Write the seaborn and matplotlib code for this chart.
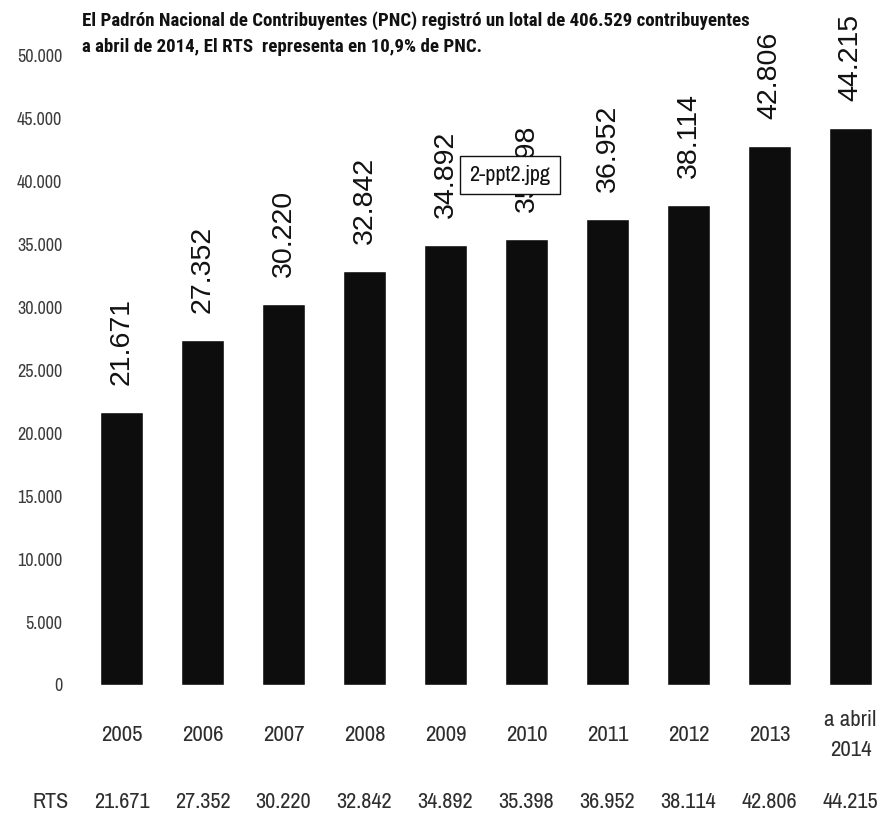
import matplotlib
matplotlib.use("Agg")
import matplotlib.pyplot as plt
import matplotlib.transforms as mtransforms
import seaborn as sns
import pandas as pd

# Contribuyentes del RTS por año
categorias = ["2005", "2006", "2007", "2008", "2009", "2010", "2011", "2012", "2013", "a abril\n2014"]
valores = [21671, 27352, 30220, 32842, 34892, 35398, 36952, 38114, 42806, 44215]
etiquetas_valor = ["21.671", "27.352", "30.220", "32.842", "34.892", "35.398",
                   "36.952", "38.114", "42.806", "44.215"]
fila_rts = ["21.671", "27.352", "30.220", "32.842", "34.892", "35.398",
            "36.952", "38.114", "42.806", "44.215"]
yticks = [0, 5000, 10000, 15000, 20000, 25000, 30000, 35000, 40000, 45000, 50000]
ytick_labels = ["0", "5.000", "10.000", "15.000", "20.000", "25.000",
                "30.000", "35.000", "40.000", "45.000", "50.000"]
titulo = ("El Padrón Nacional de Contribuyentes (PNC) registró un lotal de 406.529 contribuyentes\n"
          "a abril de 2014, El RTS  representa en 10,9% de PNC.")

sns.set_theme(style="white")
NARROW = ["Liberation Sans Narrow", "Archivo Narrow", "PT Sans Narrow",
          "Roboto Condensed", "DejaVu Sans"]
NARROW_BOLD = ["Roboto Condensed", "PT Sans Narrow", "Archivo Narrow",
               "DejaVu Sans"]
plt.rcParams["font.family"] = ["Liberation Sans", "DejaVu Sans"]

df = pd.DataFrame({"anio": categorias, "rts": valores})

fig = plt.figure(figsize=(8.8, 8.25), dpi=100)
ax = fig.add_axes([0.092, 0.1697, 0.9205, 0.7636])

sns.barplot(data=df, x="anio", y="rts", color="#0d0d0d", saturation=1,
            width=0.53, ax=ax)

ax.set_xlim(-0.5, 9.5)
ax.set_ylim(0, 50000)
ax.set_xlabel("")
ax.set_ylabel("")
for s in ax.spines.values():
    s.set_visible(False)

ax.set_yticks(yticks)
ax.set_yticklabels(ytick_labels, family=NARROW, fontstretch="condensed",
                   fontsize=13, color="#3c3c3c")
ax.tick_params(axis="y", length=0, pad=13.5)

ax.set_xticks(range(len(categorias)))
ax.set_xticklabels(categorias, family=NARROW, fontstretch="condensed",
                   fontsize=16.5, color="#2e2e2e", va="center", linespacing=1.65)
ax.tick_params(axis="x", length=0, pad=36)

# Etiquetas de valor giradas sobre cada barra
for i, (v, lab) in enumerate(zip(valores, etiquetas_valor)):
    ax.annotate(lab, xy=(i, v), xytext=(0, 19.5), textcoords="offset points",
                rotation=90, ha="center", va="bottom", fontsize=20.5,
                color="#111111", annotation_clip=False, zorder=3)

# Fila RTS bajo el eje
trans = mtransforms.blended_transform_factory(ax.transData, ax.transAxes)
ax.text(-0.88, -0.1857, "RTS", transform=trans, ha="center", va="center",
        family=NARROW, fontstretch="condensed", fontsize=16, color="#2e2e2e",
        clip_on=False)
for i, lab in enumerate(fila_rts):
    ax.text(i, -0.1857, lab, transform=trans, ha="center", va="center",
            family=NARROW, fontstretch="condensed", fontsize=16,
            color="#2e2e2e", clip_on=False)

# Título
fig.text(82 / 880, 1 - 11 / 825, titulo, ha="left", va="top", family=NARROW_BOLD,
         fontstretch="condensed", fontsize=13.6, fontweight="bold",
         color="#111111", linespacing=1.6)

# Recuadro del nombre de archivo
fig.text(510 / 880, 1 - 175 / 825, "2-ppt2.jpg", ha="center", va="center",
         family=NARROW, fontstretch="condensed", fontsize=16, color="#111111",
         zorder=10,
         bbox=dict(boxstyle="square,pad=0.42", facecolor="white",
                   edgecolor="#111111", linewidth=1))

fig.savefig("out.png", dpi=100, facecolor="white")
